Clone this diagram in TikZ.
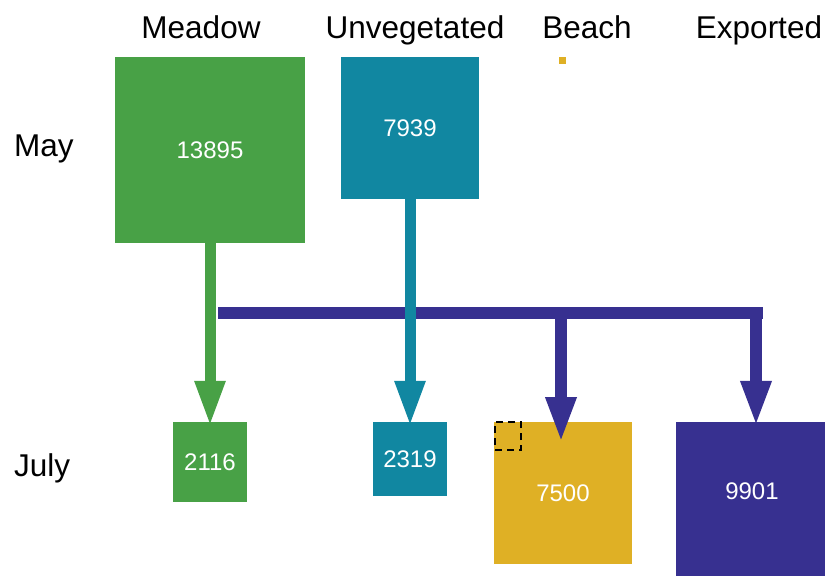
\documentclass[tikz,border=0pt]{standalone}
\usepackage{fontspec}
\setmainfont{Liberation Sans}
\usetikzlibrary{arrows.meta}

\definecolor{meadowgreen}{HTML}{48A146}
\definecolor{unvegteal}{HTML}{1187A1}
\definecolor{beachgold}{HTML}{DFB025}
\definecolor{exportblue}{HTML}{373090}

\begin{document}
\begin{tikzpicture}[
      x = 1pt, y = -1pt, % pixel units, y pointing down
      > = {Triangle[length=46pt,width=28pt]}, % arrow head style
      flow/.style = {line width=11pt, ->, shorten > = -5pt}, % thick flow arrows
      ]

      \tikzset{
      box/.style = {draw = none, inner sep = 0pt, text = white,
        font = \fontsize{24}{28}\selectfont},
      num/.style = {inner sep = 0pt, text = white,
        font = \fontsize{24}{28}\selectfont},
      colhead/.style = {inner sep = 0pt, anchor = base,
        font = \fontsize{31.5}{36}\selectfont},
      rowhead/.style = {inner sep = 0pt, anchor = base west,
        font = \fontsize{31.5}{36}\selectfont}
      }

      \useasboundingbox (0,0) rectangle (825,576);

      % headings
      \node[colhead] (hmeadow) at (201,38) {Meadow};
      \node[colhead] (hunveg) at (415,38) {Unvegetated};
      \node[colhead] (hbeach) at (587,38) {Beach};
      \node[colhead] (hexport) at (759,38) {Exported};
      \node[rowhead] (hmay) at (14,156) {May};
      \node[rowhead] (hjuly) at (14,476) {July};

      % May
      \node[box, fill = meadowgreen, minimum width = 190pt, minimum height = 186pt] (m13895) at (210,150) {13895};
      \node[box, fill = unvegteal, minimum width = 138pt, minimum height = 142pt] (m7939) at (410,128) {7939};
      \node[box, fill = beachgold, minimum size = 7pt] (mbeach) at (562.5,60.5) {};

      % July
      \node[box, fill = meadowgreen, minimum width = 74pt, minimum height = 80pt] (j2116) at (210,462) {2116};
      \node[box, fill = unvegteal, minimum width = 74pt, minimum height = 74pt] (j2319) at (410,459) {2319};
      \node[box, fill = beachgold, minimum width = 138pt, minimum height = 142pt] (j7500) at (563,493) {7500};
      \node[box, fill = exportblue, minimum size = 154pt] (j9901) at (753,499) {};
      \node[num] (t9901) at (752,491) {9901};
      \node[draw, dashed, dash pattern = on 7pt off 5pt, line width = 1.2pt,
        minimum width = 26pt, minimum height = 28pt, inner sep = 0pt] (gap) at (508,436) {};

      % exported flow
      \coordinate (split) at (218,313);
      \coordinate (barend) at (763,313);
      \coordinate (tobeach) at (561,307);
      \coordinate (beachtip) at (561,438);
      \coordinate (toexport) at (756,307);
      \draw[exportblue, line width = 12pt] (split) -- (barend);
      \draw[flow, exportblue, line width = 12pt] (tobeach) -- (beachtip);
      \draw[flow, exportblue, line width = 12pt] (toexport) -- (toexport |- j9901.north);

      % retained flow
      \draw[flow, meadowgreen] (m13895.south) -- (j2116.north);
      \draw[flow, unvegteal] (m7939.south) -- (j2319.north);

    \end{tikzpicture}
\end{document}
